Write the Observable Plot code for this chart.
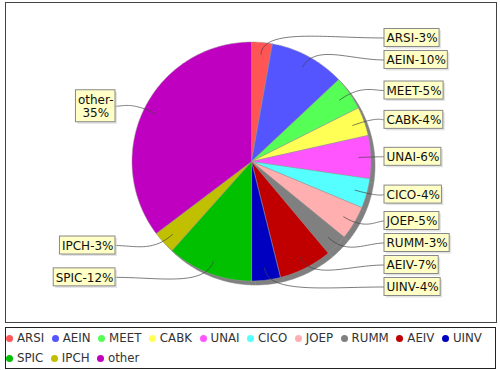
<!DOCTYPE html>
<html><head><meta charset="utf-8">
<script src="https://cdn.jsdelivr.net/npm/d3@7"></script>
<script src="https://cdn.jsdelivr.net/npm/@observablehq/plot@0.6"></script>
<style>
body{margin:0;background:#fff;font-family:"DejaVu Sans",sans-serif;}
#wrap{position:relative;width:500px;height:370px;background:#fff;}
#wrap svg{position:absolute;left:0;top:0;}
#legend{position:absolute;left:5px;top:327px;width:491px;height:42px;box-sizing:border-box;border:1px solid #222;
  display:flex;flex-wrap:wrap;align-content:flex-start;font-size:11.8px;color:#333;line-height:20px;}
#legend .it{display:inline-flex;align-items:center;margin-right:7.5px;height:20px;}
#legend .it i{display:inline-block;width:7px;height:7px;border-radius:50%;margin-right:4px;}
</style></head><body><div id="wrap"></div>
<script>
const categories = ["ARSI","AEIN","MEET","CABK","UNAI","CICO","JOEP","RUMM","AEIV","UINV","SPIC","IPCH","other"];
const values = [2.8,10.2,4.6,3.9,5.8,4.0,4.6,3.0,7.2,3.9,11.6,3.1,35.3];
const colors = ["#ff5555","#5555ff","#55ff55","#ffff55","#ff55ff","#55ffff","#ffafaf","#808080","#c00000","#0000c0","#00c000","#c0c000","#c000c0"];
const wrapped = ["other"];

const W = 500, H = 324;
const cx = 251, cy = 161, R = 119.5;
const total = d3.sum(values);

const ctx = document.createElement("canvas").getContext("2d");
ctx.font = "12px 'DejaVu Sans'";

// slices
let acc = 0;
const slices = categories.map((name, i) => {
  const a0 = acc / total * 2 * Math.PI;
  acc += values[i];
  const a1 = acc / total * 2 * Math.PI;
  return {name, value: values[i], a0, a1, mid: (a0 + a1) / 2};
});
const pt = (a, r) => [cx + r * Math.sin(a), cy - r * Math.cos(a)];
const polys = [];
for (const s of slices) {
  const n = Math.max(2, Math.ceil((s.a1 - s.a0) / (Math.PI / 180)));
  polys.push({name: s.name, x: cx, y: cy});
  for (let k = 0; k <= n; k++) {
    const [x, y] = pt(s.a0 + (s.a1 - s.a0) * k / n, R);
    polys.push({name: s.name, x, y});
  }
  polys.push({name: s.name, x: cx, y: cy});
}
const shadow = polys.map(d => ({...d, x: d.x + 4, y: d.y + 4}));

// labels
const labels = slices.map(s => {
  const pct = Math.round(s.value / total * 100);
  const text = s.name + "-" + (wrapped.includes(s.name) ? "\n" : "") + pct + "%";
  const lines = text.split("\n");
  const w = d3.max(lines, l => ctx.measureText(l).width) + 4;
  const h = lines.length * 14 + 4;
  const right = Math.sin(s.mid) >= 0;
  return {name: s.name, text, w, h, right, mid: s.mid, y: cy - 124 * Math.cos(s.mid)};
});
const topLim = cy - R - 15, botLim = cy + R + 15;
for (const side of [true, false]) {
  const L = labels.filter(l => l.right === side).sort((a, b) => a.y - b.y);
  for (let i = 0; i < L.length; i++) {
    const min = i === 0 ? topLim + L[i].h / 2 : L[i-1].y + (L[i-1].h + L[i].h) / 2 + 4;
    L[i].y = Math.max(L[i].y, min);
  }
  for (let i = L.length - 1; i >= 0; i--) {
    const max = i === L.length - 1 ? botLim - L[i].h / 2 : L[i+1].y - (L[i+1].h + L[i].h) / 2 - 4;
    L[i].y = Math.min(L[i].y, max);
  }
}
for (const l of labels) {
  if (l.right) { l.x1 = 384; l.x2 = 384 + l.w; } else { l.x2 = 115; l.x1 = 115 - l.w; }
  l.y1 = l.y - l.h / 2; l.y2 = l.y + l.h / 2;
  l.cxText = (l.x1 + l.x2) / 2;
}
// leader links (cubic bezier)
const links = [];
for (const l of labels) {
  const P0 = pt(l.mid, R * 0.9);
  const P1 = pt(l.mid, R * 1.12);
  const ex = l.right ? l.x1 : l.x2;
  const P3 = [ex, l.y];
  const P2 = [P1[0] + (P3[0] - P1[0]) * 0.5, l.y];
  for (let k = 0; k <= 40; k++) {
    const t = k / 40, u = 1 - t;
    const x = u*u*u*P0[0] + 3*u*u*t*P1[0] + 3*u*t*t*P2[0] + t*t*t*P3[0];
    const y = u*u*u*P0[1] + 3*u*u*t*P1[1] + 3*u*t*t*P2[1] + t*t*t*P3[1];
    links.push({name: l.name, x, y});
  }
}

const chart = Plot.plot({
  width: W, height: H, margin: 0,
  style: {background: "white", fontFamily: "DejaVu Sans"},
  x: {domain: [0, W], range: [0, W], axis: null},
  y: {domain: [0, H], range: [0, H], axis: null},
  color: {type: "ordinal", domain: categories, range: colors},
  marks: [
    Plot.frame({stroke: "#444", insetLeft: 5, insetTop: 2, insetRight: 4, insetBottom: 2}),
    Plot.line(shadow, {x: "x", y: "y", z: "name", fill: "#808080", stroke: "#808080", strokeWidth: 0.5, curve: "linear"}),
    Plot.line(polys, {x: "x", y: "y", z: "name", fill: "name", stroke: "#999", strokeWidth: 0.5, curve: "linear"}),
    Plot.line(links, {x: "x", y: "y", z: "name", stroke: "#444", strokeWidth: 0.7, curve: "linear"}),
    Plot.rect(labels, {x1: d => d.x1 + 2, x2: d => d.x2 + 2, y1: d => d.y1 + 2, y2: d => d.y2 + 2, fill: "#d0d0d0", fillOpacity: 0.6}),
    Plot.rect(labels, {x1: "x1", x2: "x2", y1: "y1", y2: "y2", fill: "#ffffc6", stroke: "#888", strokeWidth: 1}),
    Plot.text(labels, {x: "cxText", y: "y", text: "text", fill: "#111", fontSize: 12, lineHeight: 1.12, textAnchor: "middle", lineAnchor: "middle"})
  ]
});
const wrap = document.getElementById("wrap");
wrap.appendChild(chart);

const legend = document.createElement("div");
legend.id = "legend";
categories.forEach((c, i) => {
  const it = document.createElement("span");
  it.className = "it";
  const dot = document.createElement("i");
  dot.style.background = colors[i];
  it.appendChild(dot);
  it.appendChild(document.createTextNode(c));
  legend.appendChild(it);
});
wrap.appendChild(legend);
</script></body></html>
